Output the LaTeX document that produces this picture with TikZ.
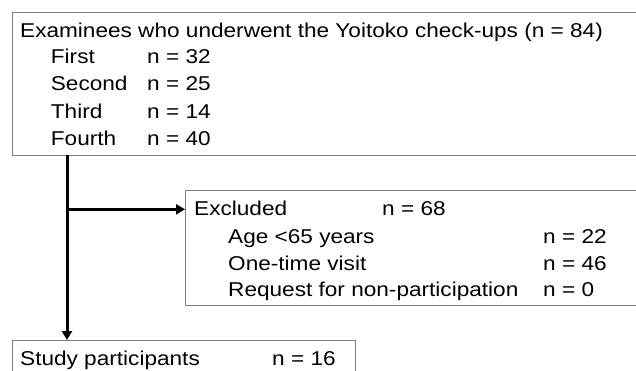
\documentclass[tikz,border=0pt]{standalone}
\usepackage{fontspec}
\setmainfont[FakeStretch=1.13]{Liberation Sans}
\usetikzlibrary{arrows.meta}
\definecolor{boxgray}{HTML}{7F7F7F}
\begin{document}
\begin{tikzpicture}[x=1pt,y=-1pt,
  box/.style={draw=boxgray, line width=1pt, anchor=north west, inner sep=0pt, outer sep=0pt},
  txt/.style={anchor=base west, inner sep=0pt, font=\fontsize{20}{22}\selectfont},
  conn/.style={line width=3pt, -{Triangle[length=9pt,width=10pt]}}]
\useasboundingbox (0,0) rectangle (636,370);
% boxes
\node[box, minimum width=640pt, minimum height=143pt] (top) at (12,12) {};
\node[box, minimum width=470pt, minimum height=115pt] (excl) at (185,190) {};
\node[box, minimum width=343pt, minimum height=45pt] (study) at (12,340) {};
% texts top box
\node[txt] (t0) at (20,37) {Examinees who underwent the Yoitoko check-ups (n = 84)};
\node[txt] (t1) at (50.7,63.8) {First};
\node[txt] (t1n) at (147,63.8) {n = 32};
\node[txt] (t2) at (50.7,90.9) {Second};
\node[txt] (t2n) at (147,90.9) {n = 25};
\node[txt] (t3) at (50.7,118) {Third};
\node[txt] (t3n) at (147,118) {n = 14};
\node[txt] (t4) at (50.7,145.1) {Fourth};
\node[txt] (t4n) at (147,145.1) {n = 40};
% excluded box texts
\node[txt] (e0) at (194,215) {Excluded};
\node[txt] (e0n) at (382,215) {n = 68};
\node[txt] (e1) at (228,243) {Age <65 years};
\node[txt] (e1n) at (543,243) {n = 22};
\node[txt] (e2) at (228,270) {One-time visit};
\node[txt] (e2n) at (543,270) {n = 46};
\node[txt] (e3) at (228,296) {Request for non-participation};
\node[txt] (e3n) at (543,296) {n = 0};
% study box texts
\node[txt] (s0) at (20,365) {Study participants};
\node[txt] (s0n) at (272,365) {n = 16};
% connectors
\coordinate (trunk) at (67,155);
\coordinate (branch) at (67,209.3);
\draw[conn] (trunk) -- (trunk |- study.north);
\draw[conn] (branch) -- (branch -| excl.west);
\end{tikzpicture}
\end{document}
